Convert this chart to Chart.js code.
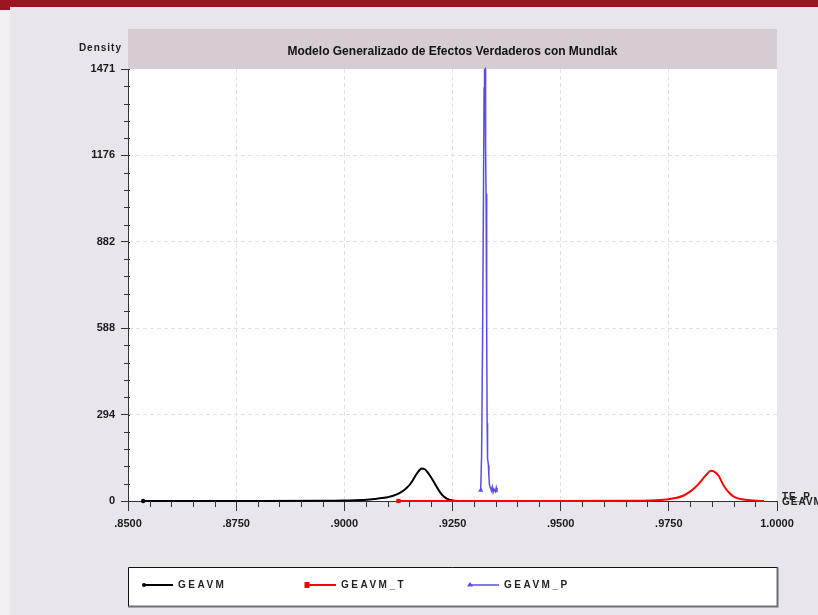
<!DOCTYPE html>
<html>
<head>
<meta charset="utf-8">
<script src="https://cdn.jsdelivr.net/npm/chart.js@4.4.1/dist/chart.umd.min.js"></script>
<style>
html,body{margin:0;padding:0;background:#e8e5ec;}
canvas{display:block;}
</style>
</head>
<body>
<canvas id="c" width="818" height="615"></canvas>
<script>
// ---- data ----
const chartTitle = 'Modelo Generalizado de Efectos Verdaderos con Mundlak';
const yAxisTitle = 'Density';
const seriesNames = ['GEAVM', 'GEAVM_T', 'GEAVM_P'];

const xTicks = [0.85, 0.875, 0.9, 0.925, 0.95, 0.975, 1.0];
const xTickLabels = ['.8500', '.8750', '.9000', '.9250', '.9500', '.9750', '1.0000'];
const yTicks = [0, 294.2, 588.4, 882.6, 1176.8, 1471];
const yTickLabels = ['0', '294', '588', '882', '1176', '1471'];

const geavmX = [0.8535, 0.88, 0.895, 0.900, 0.9052, 0.9075, 0.910, 0.9113, 0.9125, 0.9136, 0.9145, 0.9152, 0.916, 0.9167, 0.9173, 0.9179, 0.9186, 0.9193, 0.920, 0.9209, 0.9215, 0.9221, 0.9229, 0.9237, 0.9244, 0.9255, 0.927, 0.930];
const geavmY = [0, 0, 0.5, 1.5, 4, 8, 13, 18, 25, 35, 46, 57, 75, 92, 104, 111, 108, 97, 82, 60, 44, 30, 16, 8, 3.5, 1, 0, 0];

const geavmTX = [0.9125, 0.95, 0.965, 0.9706, 0.9745, 0.9765, 0.9783, 0.9799, 0.981, 0.982, 0.983, 0.984, 0.9847, 0.9855, 0.9865, 0.9874, 0.988, 0.989, 0.9899, 0.991, 0.9922, 0.9945, 0.997];
const geavmTY = [0, 0, 0.5, 1.5, 5, 10, 18, 32, 45, 60, 78, 95, 103, 100, 86, 60, 45, 27, 16, 9, 5, 1.5, 0];

const geavmPX = [0.93152, 0.93172, 0.93195, 0.93215, 0.93230, 0.93240, 0.93255, 0.93265, 0.93275, 0.93290, 0.93300, 0.93310, 0.93330, 0.93340, 0.93355, 0.93378, 0.93400, 0.93420, 0.93440, 0.93460, 0.93490, 0.93510, 0.93528];
const geavmPY = [37, 150, 547, 1023, 1406, 1468, 1471, 1200, 1046, 600, 265, 146, 122, 88, 54, 44, 35, 48, 30, 40, 32, 45, 30];

// ---- helpers ----
function pts(xs, ys) { return xs.map((x, i) => ({x: x, y: ys[i]})); }
function firstOnly(n, r) { return Array.from({length: n}, (_, i) => i === 0 ? r : 0); }

const FONT = '"Liberation Sans", Arial, sans-serif';

const deco = {
  id: 'deco',
  beforeDraw(chart) {
    const ctx = chart.ctx, a = chart.chartArea;
    ctx.save();
    ctx.fillStyle = '#e8e5ec';
    ctx.fillRect(0, 0, chart.width, chart.height);
    ctx.fillStyle = '#f1eff3';
    ctx.fillRect(0, 10, 10, chart.height - 10);
    ctx.fillStyle = '#9b1522';
    ctx.fillRect(0, 0, chart.width, 7);
    ctx.fillRect(0, 0, 10, 10);
    // title band
    ctx.fillStyle = '#d5ccd4';
    ctx.fillRect(a.left, 29, a.right - a.left, a.top - 29);
    // plot background
    ctx.fillStyle = '#ffffff';
    ctx.fillRect(a.left, a.top, a.right - a.left, a.bottom - a.top);
    // title
    ctx.fillStyle = '#111';
    ctx.font = 'bold 12px ' + FONT;
    ctx.textAlign = 'center';
    ctx.textBaseline = 'middle';
    ctx.fillText(chartTitle, (a.left + a.right) / 2, 52, 339);
    // y axis title
    ctx.font = 'bold 10px ' + FONT;
    ctx.textAlign = 'right';
    ctx.fillStyle = '#222';
    ctx.letterSpacing = '1px';
    ctx.fillText(yAxisTitle, 122, 48);
    ctx.restore();
  },
  afterDraw(chart) {
    const ctx = chart.ctx, a = chart.chartArea;
    const xs = chart.scales.x, ys = chart.scales.y;
    ctx.save();
    ctx.strokeStyle = '#333';
    ctx.lineWidth = 1;
    // minor x ticks
    ctx.beginPath();
    for (let k = 0; k <= 30; k++) {
      if (k % 5 === 0) continue;
      const px = Math.round(xs.getPixelForValue(0.85 + k * 0.005)) + 0.5;
      ctx.moveTo(px, a.bottom);
      ctx.lineTo(px, a.bottom + 6);
    }
    // minor y ticks and major tick extension
    for (let k = 0; k <= 25; k++) {
      const py = Math.round(ys.getPixelForValue(k * 1471 / 25)) + 0.5;
      if (k % 5 === 0) {
        ctx.moveTo(a.left, py); ctx.lineTo(a.left + 2, py);
      } else {
        ctx.moveTo(a.left - 4, py); ctx.lineTo(a.left + 2, py);
      }
    }
    ctx.stroke();

    // overlapping labels at the right end of the x axis
    ctx.fillStyle = '#222';
    ctx.font = 'bold 10px ' + FONT;
    ctx.textAlign = 'left';
    ctx.textBaseline = 'middle';
    ctx.letterSpacing = '1px';
    ctx.fillText('TE_P', 782, 497);
    ctx.fillText('GEAVM', 782, 502);

    // legend box
    const lx = a.left, ly = 567, lw = a.right - a.left, lh = 39;
    ctx.fillStyle = '#ffffff';
    ctx.fillRect(lx, ly, lw, lh);
    ctx.strokeStyle = '#6e6e74';
    ctx.lineWidth = 2;
    ctx.beginPath();
    ctx.moveTo(lx + lw + 0.5, ly); ctx.lineTo(lx + lw + 0.5, ly + lh + 0.5); ctx.lineTo(lx, ly + lh + 0.5);
    ctx.stroke();
    ctx.strokeStyle = '#111';
    ctx.lineWidth = 1;
    ctx.beginPath();
    ctx.moveTo(lx + 0.5, ly + lh); ctx.lineTo(lx + 0.5, ly + 0.5); ctx.lineTo(lx + lw, ly + 0.5);
    ctx.stroke();

    const itemX = [144, 307, 470];
    const yy = 585;
    chart.data.datasets.forEach((ds, i) => {
      const x0 = itemX[i];
      ctx.strokeStyle = ds.borderColor;
      ctx.lineWidth = i === 2 ? 1.5 : 2;
      ctx.beginPath();
      ctx.moveTo(x0, yy); ctx.lineTo(x0 + 29, yy);
      ctx.stroke();
      ctx.fillStyle = ds.borderColor;
      if (i === 0) {
        ctx.beginPath(); ctx.arc(x0, yy, 2, 0, Math.PI * 2); ctx.fill();
      } else if (i === 1) {
        ctx.fillRect(x0 - 2.5, yy - 3, 5, 6);
      } else {
        ctx.beginPath(); ctx.moveTo(x0, yy - 3); ctx.lineTo(x0 + 3, yy + 1.5); ctx.lineTo(x0 - 3, yy + 1.5); ctx.closePath(); ctx.fill();
      }
      ctx.fillStyle = '#222';
      ctx.font = 'bold 10px ' + FONT;
      ctx.letterSpacing = '2.5px';
      ctx.textAlign = 'left';
      ctx.textBaseline = 'middle';
      ctx.fillText(ds.label, x0 + 34, yy);
    });
    ctx.restore();
  }
};

new Chart(document.getElementById('c'), {
  type: 'line',
  data: {
    datasets: [
      {
        label: seriesNames[0],
        data: pts(geavmX, geavmY),
        borderColor: '#000000',
        backgroundColor: '#000000',
        borderWidth: 2,
        pointRadius: firstOnly(geavmX.length, 2.2),
        pointStyle: 'circle',
        pointBorderWidth: 0,
        cubicInterpolationMode: 'monotone',
        clip: false,
        order: 3
      },
      {
        label: seriesNames[1],
        data: pts(geavmTX, geavmTY),
        borderColor: '#ff0000',
        backgroundColor: '#ff0000',
        borderWidth: 2,
        pointRadius: firstOnly(geavmTX.length, 3),
        pointStyle: 'rect',
        pointBorderWidth: 0,
        cubicInterpolationMode: 'monotone',
        clip: false,
        order: 2
      },
      {
        label: seriesNames[2],
        data: pts(geavmPX, geavmPY),
        borderColor: '#5a4de0',
        backgroundColor: '#5a4de0',
        borderWidth: 1.5,
        pointRadius: firstOnly(geavmPX.length, 3),
        pointStyle: 'triangle',
        pointBorderWidth: 0,
        tension: 0,
        clip: false,
        order: 1
      }
    ]
  },
  options: {
    responsive: false,
    animation: false,
    devicePixelRatio: 1,
    layout: {padding: {top: 69, left: 0, right: 41, bottom: 74}},
    plugins: {legend: {display: false}, tooltip: {enabled: false}, title: {display: false}},
    scales: {
      x: {
        type: 'linear',
        min: 0.85,
        max: 1.0,
        offset: false,
        afterBuildTicks: (s) => { s.ticks = xTicks.map(v => ({value: v})); },
        afterFit: (s) => { s.height = 40; },
        ticks: {
          autoSkip: false,
          maxRotation: 0,
          padding: 6,
          color: '#1a1a1a',
          font: {family: FONT, size: 11, weight: 'bold'},
          callback: (v, i) => xTickLabels[i]
        },
        grid: {
          color: (c) => (c.index === 0 || c.index === xTicks.length - 1) ? 'rgba(0,0,0,0)' : '#e2e2e2',
          lineWidth: 1,
          drawTicks: true,
          tickLength: 10,
          tickColor: '#333',
          tickWidth: 1
        },
        border: {display: true, color: '#333', width: 1, dash: [4, 3]}
      },
      y: {
        type: 'linear',
        min: 0,
        max: 1471,
        afterBuildTicks: (s) => { s.ticks = yTicks.map(v => ({value: v})); },
        afterFit: (s) => { s.width = 128; },
        ticks: {
          autoSkip: false,
          padding: 6,
          color: '#1a1a1a',
          font: {family: FONT, size: 11, weight: 'bold'},
          callback: (v, i) => yTickLabels[i]
        },
        grid: {
          color: (c) => (c.index === 0 || c.index === yTicks.length - 1) ? 'rgba(0,0,0,0)' : '#e2e2e2',
          lineWidth: 1,
          drawTicks: true,
          tickLength: 7,
          tickColor: '#333',
          tickWidth: 1
        },
        border: {display: true, color: '#333', width: 1, dash: [4, 3]}
      }
    }
  },
  plugins: [deco]
});
</script>
</body>
</html>
